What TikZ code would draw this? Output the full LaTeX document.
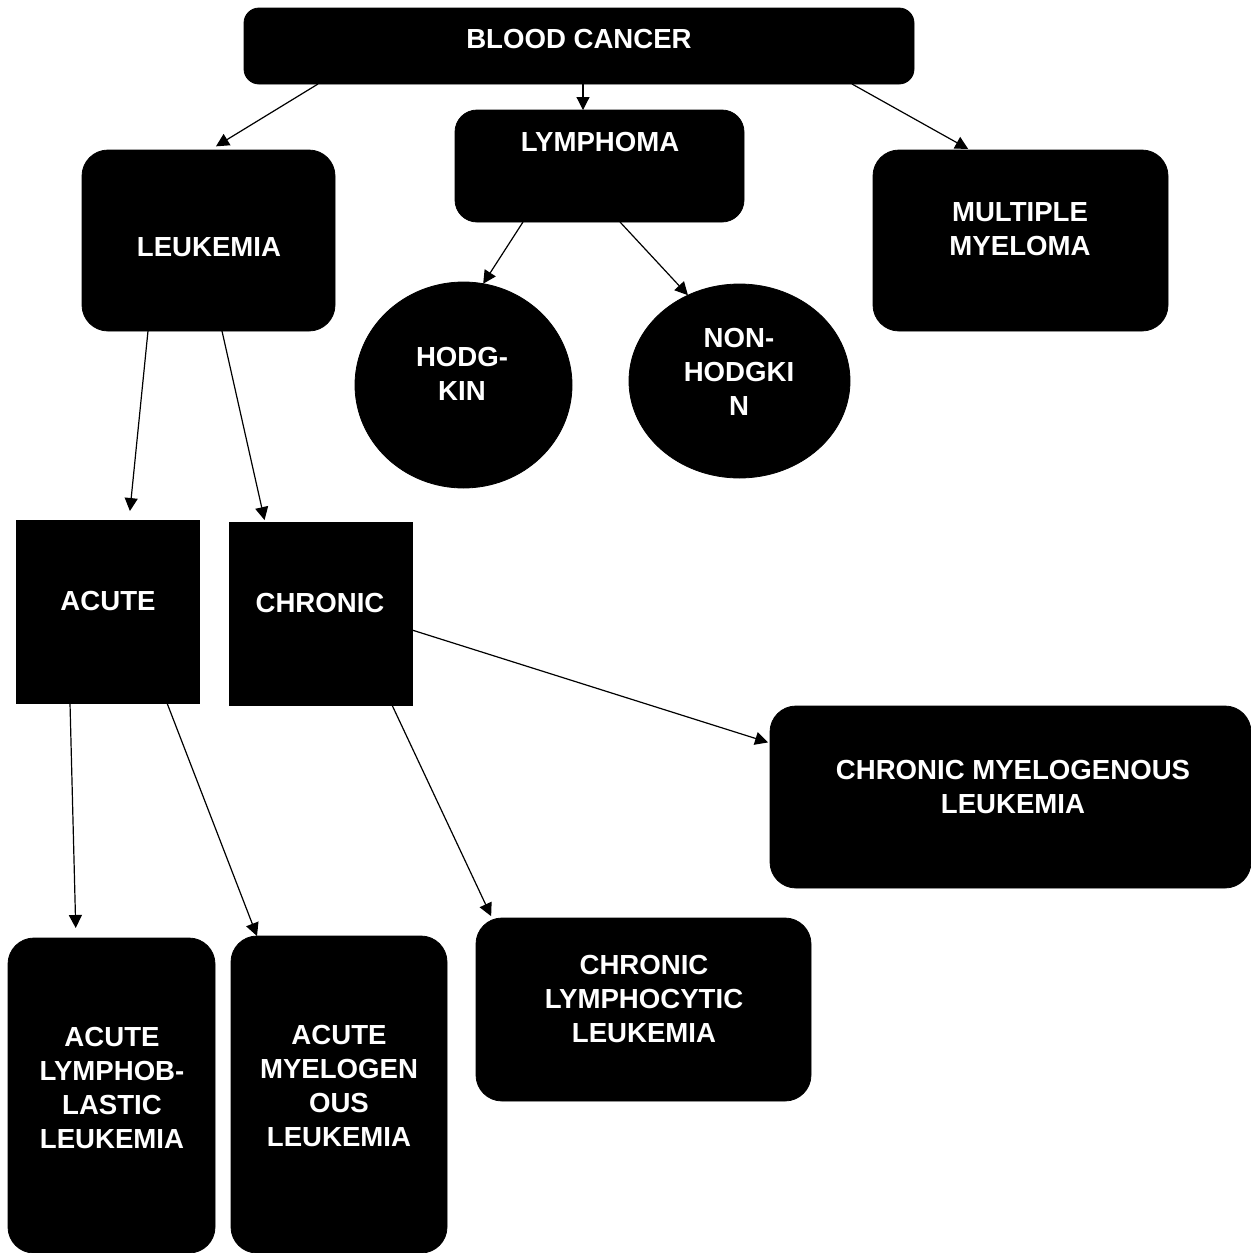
\documentclass[tikz,border=0pt]{standalone}
\usepackage{fontspec}
\setmainfont{Liberation Sans}
\usetikzlibrary{arrows.meta,calc,shapes.geometric}
\begin{document}
\begin{tikzpicture}[x=0.5pt,y=-0.5pt,
  box/.style={fill=black,draw=black,line width=0.4pt,inner sep=0pt,outer sep=0pt,rounded corners=13pt},
  sqbox/.style={fill=black,draw=black,line width=0.4pt,inner sep=0pt,outer sep=0pt},
  oval/.style={ellipse,fill=black,draw=black,line width=0.4pt,inner sep=0pt,outer sep=0pt},
  lbl/.style={text=white,font=\bfseries\fontsize{13.8}{17}\selectfont,align=center,inner sep=0pt},
  arr/.style={-{Triangle[length=6.5pt,width=6.5pt]},line width=0.6pt}]
\useasboundingbox (0,0) rectangle (1251,1253);
% shapes
\node[box,rounded corners=7.5pt,minimum width=335pt,minimum height=38pt] (bc) at (579,46) {};
\node[box,rounded corners=11pt,minimum width=144.5pt,minimum height=56pt] (lym) at (599.5,166) {};
\node[box,minimum width=126.5pt,minimum height=90.5pt] (leuk) at (208.5,240.5) {};
\node[box,minimum width=147.5pt,minimum height=90.5pt] (mm) at (1020.5,240.5) {};
\node[oval,minimum width=108.5pt,minimum height=103pt] (hod) at (463.5,385) {};
\node[oval,minimum width=110.5pt,minimum height=97pt] (non) at (739.5,381) {};
\node[sqbox,minimum width=91.5pt,minimum height=91.5pt] (acute) at (107.5,611.5) {};
\node[sqbox,minimum width=91.5pt,minimum height=91.5pt] (chronic) at (320.5,613.5) {};
\node[box,minimum width=240.5pt,minimum height=91pt] (cml) at (1010.5,797) {};
\node[box,minimum width=167.5pt,minimum height=91.5pt] (cll) at (643.5,1009.5) {};
\node[box,minimum width=103.5pt,minimum height=157.5pt] (all) at (111.5,1095.5) {};
\node[box,minimum width=108pt,minimum height=158.5pt] (aml) at (339,1094.5) {};
% texts
\node[lbl] (bct) at (579,39) {BLOOD CANCER};
\node[lbl] (lymt) at (600,142) {LYMPHOMA};
\node[lbl] (leukt) at (209,247) {LEUKEMIA};
\node[lbl] (mmt) at (1020,229) {MULTIPLE\\MYELOMA};
\node[lbl] (hodt) at (462,374) {HODG-\\KIN};
\node[lbl] (nont) at (739,372) {NON-\\HODGKI\\N};
\node[lbl] (acutet) at (108,601) {ACUTE};
\node[lbl] (chronict) at (320,603) {CHRONIC};
\node[lbl] (cmlt) at (1013,787) {CHRONIC MYELOGENOUS\\LEUKEMIA};
\node[lbl] (cllt) at (644,999) {CHRONIC\\LYMPHOCYTIC\\LEUKEMIA};
\node[lbl] (allt) at (112,1088) {ACUTE\\LYMPHOB-\\LASTIC\\LEUKEMIA};
\node[lbl] (amlt) at (339,1086) {ACUTE\\MYELOGEN\\OUS\\LEUKEMIA};
% connectors
\draw[arr,shorten >=3.5pt] (bc.south -| 318,0) -- (leuk.north -| 210,0);
\draw[arr] (bc.south -| 583,0) -- (lym.north -| 583,0);
\draw[arr,shorten >=1pt] (bc.south -| 852,0) -- (mm.north -| 970,0);
\draw[arr] (lym.south -| 523,0) -- (hod.79);
\draw[arr] (lym.south -| 620,0) -- (non.121);
\draw[arr,shorten >=4.5pt] (leuk.south -| 148,0) -- (acute.north -| 129,0);
\draw[arr,shorten >=1pt] (leuk.south -| 222,0) -- (chronic.north -| 265,0);
\draw[arr,shorten >=5pt] (acute.south -| 70,0) -- (all.north -| 76,0);
\draw[arr] (acute.south -| 167,0) -- (aml.north -| 257,0);
\draw[arr,shorten >=1pt] (chronic.east |- 0,630) -- (cml.west |- 0,743);
\draw[arr,shorten >=1pt] (chronic.south -| 392,0) -- (cll.north -| 492,0);
\end{tikzpicture}
\end{document}
